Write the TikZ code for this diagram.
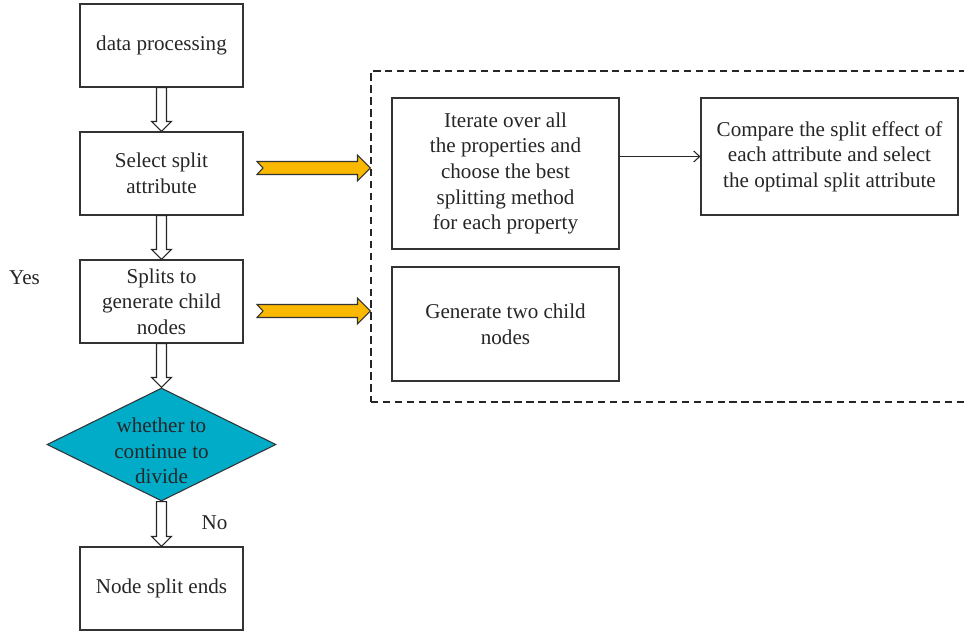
\documentclass[tikz,border=0pt]{standalone}
\usepackage{fontspec}
\setmainfont{Liberation Serif}
\usepackage{xcolor}
\usetikzlibrary{arrows.meta,shapes.geometric,calc}
\definecolor{amberfill}{RGB}{250,184,0}
\definecolor{diamteal}{RGB}{0,172,200}

\begin{document}
\begin{tikzpicture}[font=\fontsize{12}{14.6}\selectfont,
  box/.style={draw=black!80, line width=0.6pt, align=center, text=black!85,
    minimum width=3.26cm, minimum height=1.66cm},
  hollow/.style={draw=black!85, line width=0.6pt, fill=white,
    to path={let \p1=(\tikztostart), \p2=(\tikztotarget) in
      (\x1-0.1cm,\y1) -- (\x1-0.1cm,\y2+0.2cm) -- (\x1-0.2cm,\y2+0.2cm)
      -- (\x1,\y2) -- (\x1+0.2cm,\y2+0.2cm) -- (\x1+0.1cm,\y2+0.2cm)
      -- (\x1+0.1cm,\y1) -- cycle}},
  fat/.style={draw=black!80, line width=0.6pt, fill=amberfill,
    to path={let \p1=(\tikztostart), \p2=(\tikztotarget) in
      (\x1,\y1+0.13cm) -- (\x2-0.26cm,\y1+0.13cm) -- (\x2-0.26cm,\y1+0.26cm)
      -- (\x2,\y1) -- (\x2-0.26cm,\y1-0.26cm) -- (\x2-0.26cm,\y1-0.13cm)
      -- (\x1,\y1-0.13cm) -- (\x1+0.12cm,\y1) -- cycle}},
  lab/.style={text=black!85}]
\useasboundingbox (0,0) rectangle (19.28,-12.7);
% ---- left column: main flow ----
\node[box] (proc) at (3.23,-0.91) {data processing};
\node[box] (select) at (3.23,-3.47) {Select split\\ attribute};
\node[box] (splits) at (3.23,-6.03) {Splits to\\ generate child\\ nodes};
\node[diamond, draw=black!80, line width=0.6pt, fill=diamteal,
  aspect=2.03, minimum width=4.58cm, minimum height=2.26cm,
  label={[lab, align=center, yshift=-0.13cm]center:whether to\\ continue to\\ divide}]
  (cont) at (3.23,-8.89) {};
\node[box] (ends) at (3.23,-11.77) {Node split ends};
\node[lab] (yes) at (0.49,-5.56) {Yes};
\node[lab] (no) at (4.29,-10.46) {No};
\draw[hollow] (proc.south) to (select.north);
\draw[hollow] (select.south) to (splits.north);
\draw[hollow] (splits.south) to (cont.north);
\draw[hollow] (cont.south) to (ends.north);
% ---- right block: details of each step ----
\node[draw=black!85, line width=0.6pt, dash pattern=on 4.2pt off 2.6pt,
  minimum width=12.2cm, minimum height=6.62cm] (frame) at (13.52,-4.73) {};
\node[box, minimum width=4.54cm, minimum height=3.02cm] (iter) at (10.11,-3.47)
  {Iterate over all\\ the properties and\\ choose the best\\ splitting method\\ for each property};
\node[box, minimum width=4.54cm, minimum height=2.28cm] (gen) at (10.11,-6.48)
  {Generate two child\\ nodes};
\node[box, minimum width=5.14cm, minimum height=2.34cm] (comp) at (16.59,-3.13)
  {Compare the split effect of\\ each attribute and select\\ the optimal split attribute};
\draw[-{Straight Barb[length=1.2mm,width=2.2mm]}, black!85, line width=0.6pt]
  (iter.east |- comp.west) -- (comp.west);
% yellow arrows into the frame
\coordinate (ya) at (5.14,-3.36);
\coordinate (yb) at (5.14,-6.22);
\draw[fat] (ya) to (frame.west |- ya);
\draw[fat] (yb) to (frame.west |- yb);
\end{tikzpicture}
\end{document}
